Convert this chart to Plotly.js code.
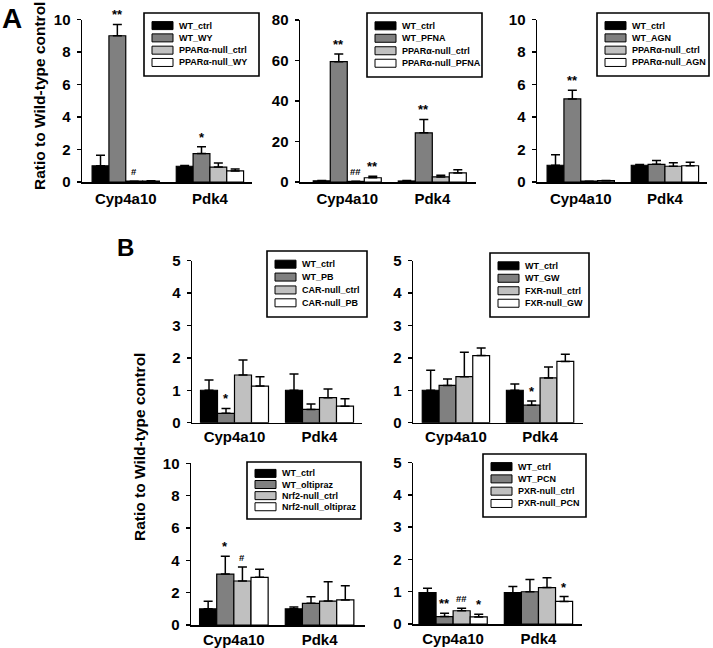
<!DOCTYPE html>
<html>
<head>
<meta charset="utf-8">
<script src="https://cdn.plot.ly/plotly-3.0.1.min.js"></script>
<style>html,body{margin:0;padding:0;background:#fff;}#chart{width:713px;height:648px;}</style>
</head>
<body>
<div id="chart"></div>
<script>
// ---------------- data ----------------
const genes = ['Cyp4a10', 'Pdk4'];
const yTitle = 'Ratio to Wild-type control';

const a1Series = ['WT_ctrl', 'WT_WY', 'PPARα-null_ctrl', 'PPARα-null_WY'];
const a1Mean = [[1.0, 0.97], [9.0, 1.75], [0.05, 0.92], [0.05, 0.68]];
const a1Err  = [[0.65, 0.05], [0.7, 0.42], [0, 0.25], [0.02, 0.12]];
const a1Sig  = [['', ''], ['**', '*'], ['#', ''], ['', '']];

const a2Series = ['WT_ctrl', 'WT_PFNA', 'PPARα-null_ctrl', 'PPARα-null_PFNA'];
const a2Mean = [[0.6, 0.5], [59.4, 24.3], [0.3, 2.5], [2.1, 4.5]];
const a2Err  = [[0.2, 0.2], [3.8, 6.6], [0.1, 0.8], [0.7, 1.6]];
const a2Sig  = [['', ''], ['**', '**'], ['##', ''], ['**', '']];

const a3Series = ['WT_ctrl', 'WT_AGN', 'PPARα-null_ctrl', 'PPARα-null_AGN'];
const a3Mean = [[1.03, 1.03], [5.11, 1.09], [0.05, 0.97], [0.08, 1.0]];
const a3Err  = [[0.65, 0.05], [0.54, 0.24], [0, 0.22], [0.02, 0.21]];
const a3Sig  = [['', ''], ['**', ''], ['', ''], ['', '']];

const b1Series = ['WT_ctrl', 'WT_PB', 'CAR-null_ctrl', 'CAR-null_PB'];
const b1Mean = [[1.0, 1.0], [0.29, 0.41], [1.47, 0.77], [1.13, 0.51]];
const b1Err  = [[0.32, 0.5], [0.15, 0.17], [0.46, 0.27], [0.29, 0.23]];
const b1Sig  = [['', ''], ['*', ''], ['', ''], ['', '']];

const b2Series = ['WT_ctrl', 'WT_GW', 'FXR-null_ctrl', 'FXR-null_GW'];
const b2Mean = [[1.0, 1.0], [1.15, 0.54], [1.42, 1.38], [2.07, 1.89]];
const b2Err  = [[0.62, 0.19], [0.2, 0.13], [0.75, 0.34], [0.23, 0.22]];
const b2Sig  = [['', ''], ['', '*'], ['', ''], ['', '']];

const b3Series = ['WT_ctrl', 'WT_oltipraz', 'Nrf2-null_ctrl', 'Nrf2-null_oltipraz'];
const b3Mean = [[1.0, 1.0], [3.15, 1.34], [2.72, 1.48], [2.95, 1.55]];
const b3Err  = [[0.47, 0.12], [1.1, 0.41], [0.87, 1.2], [0.5, 0.88]];
const b3Sig  = [['', ''], ['*', ''], ['#', ''], ['', '']];

const b4Series = ['WT_ctrl', 'WT_PCN', 'PXR-null_ctrl', 'PXR-null_PCN'];
const b4Mean = [[0.97, 0.97], [0.23, 1.0], [0.41, 1.13], [0.22, 0.7]];
const b4Err  = [[0.14, 0.19], [0.1, 0.38], [0.08, 0.3], [0.08, 0.15]];
const b4Sig  = [['', ''], ['**', ''], ['##', ''], ['*', '*']];

// ---------------- layout / style ----------------
const W = 713, H = 648;
const FONT = 'Liberation Sans, Arial, Helvetica, sans-serif';
const fills = ['#000000', '#808080', '#c0c0c0', '#ffffff'];
const BARGAP = 0.2;
const xp = px => px / W;
const yp = py => 1 - py / H;

const panels = [
  {series: a1Series, mean: a1Mean, err: a1Err, sig: a1Sig, xdom: [82, 252], ydom: [19.5, 182], xr: [-0.52, 1.5], ymax: 10, dtick: 2, leg: [144, 13, 259, 76], so: 2},
  {series: a2Series, mean: a2Mean, err: a2Err, sig: a2Sig, xdom: [300, 476], ydom: [20, 182], xr: [-0.556, 1.514], ymax: 80, dtick: 20, leg: [367, 13, 482, 77], so: 2},
  {series: a3Series, mean: a3Mean, err: a3Err, sig: a3Sig, xdom: [537, 707], ydom: [19.5, 182], xr: [-0.52, 1.5], ymax: 10, dtick: 2, leg: [597, 13, 709, 76], so: 2},
  {series: b1Series, mean: b1Mean, err: b1Err, sig: b1Sig, xdom: [192, 362], ydom: [260.5, 422.7], xr: [-0.5, 1.5], ymax: 5, dtick: 1, leg: [267, 251, 367, 317], so: 0},
  {series: b2Series, mean: b2Mean, err: b2Err, sig: b2Sig, xdom: [413, 583], ydom: [260.5, 422.7], xr: [-0.51, 1.51], ymax: 5, dtick: 1, leg: [490, 253, 589, 317], so: 0},
  {series: b3Series, mean: b3Mean, err: b3Err, sig: b3Sig, xdom: [191, 365], ydom: [463.3, 625], xr: [-0.5, 1.53], ymax: 10, dtick: 2, leg: [247, 462, 361, 519], so: 0},
  {series: b4Series, mean: b4Mean, err: b4Err, sig: b4Sig, xdom: [413, 582], ydom: [462.7, 624], xr: [-0.47, 1.51], ymax: 5, dtick: 1, leg: [483, 454, 586, 517], so: 0}
];

const traces = [];
const layout = {
  width: W, height: H,
  margin: {l: 0, r: 0, t: 0, b: 0},
  paper_bgcolor: '#fff', plot_bgcolor: 'rgba(0,0,0,0)',
  showlegend: false,
  barmode: 'group', bargap: BARGAP, bargroupgap: 0,
  font: {family: FONT, color: '#000'},
  shapes: [], annotations: []
};

panels.forEach((p, k) => {
  const n = k === 0 ? '' : String(k + 1);
  const xa = 'x' + n, ya = 'y' + n;
  layout['xaxis' + n] = {
    domain: [xp(p.xdom[0]), xp(p.xdom[1])], range: p.xr, anchor: ya,
    type: 'category', showline: true, linecolor: '#000', linewidth: 1.5,
    ticks: '', showgrid: false, zeroline: false, fixedrange: true,
    tickfont: {family: FONT, size: 15, color: '#000', weight: 'bold'},
    ticklabelstandoff: p.so
  };
  layout['yaxis' + n] = {
    domain: [yp(p.ydom[1]), yp(p.ydom[0])], range: [0, p.ymax], anchor: xa,
    dtick: p.dtick, tick0: 0, showline: true, linecolor: '#000', linewidth: 1.5,
    ticks: 'outside', ticklen: 4, tickwidth: 1.5, tickcolor: '#000',
    showgrid: false, zeroline: false, fixedrange: true,
    tickfont: {family: FONT, size: 15, color: '#000', weight: 'bold'},
    ticklabelstandoff: 3
  };
  const catPx = (p.xdom[1] - p.xdom[0]) / (p.xr[1] - p.xr[0]);
  const barPx = catPx * (1 - BARGAP) / p.series.length;
  p.series.forEach((name, i) => {
    traces.push({
      type: 'bar', name: name, x: genes, y: p.mean[i], xaxis: xa, yaxis: ya,
      marker: {color: fills[i], line: {color: '#000', width: 1.2}},
      error_y: {type: 'data', symmetric: false, array: p.err[i], arrayminus: p.err[i].map(() => 0),
                color: '#000', thickness: 1.5, width: 4.5},
      hoverinfo: 'none'
    });
    genes.forEach((g, j) => {
      const s = p.sig[i][j];
      if (!s) return;
      const isHash = s.indexOf('#') >= 0;
      layout.annotations.push({
        xref: xa, yref: ya, x: g, y: p.mean[i][j] + p.err[i][j],
        xshift: (i - (p.series.length - 1) / 2) * barPx, yshift: isHash ? 2 : 0,
        text: s, showarrow: false, xanchor: 'center', yanchor: 'bottom',
        font: {family: FONT, size: isHash ? 9.5 : 13, color: '#000', weight: 'bold'}
      });
    });
  });
  // legend box
  const [l, t, r, b] = p.leg;
  layout.shapes.push({type: 'rect', xref: 'paper', yref: 'paper', x0: xp(l), x1: xp(r), y0: yp(b), y1: yp(t),
                      line: {color: '#000', width: 1.6}, fillcolor: '#fff', layer: 'above'});
  const h = b - t;
  p.series.forEach((name, i) => {
    const cy = t + h * (0.2 + 0.195 * i);
    layout.shapes.push({type: 'rect', xref: 'paper', yref: 'paper', x0: xp(l + 8), x1: xp(l + 29),
                        y0: yp(cy + 4), y1: yp(cy - 4), line: {color: '#000', width: 1}, fillcolor: fills[i], layer: 'above'});
    layout.annotations.push({xref: 'paper', yref: 'paper', x: xp(l + 33), y: yp(cy), text: name,
                             showarrow: false, xanchor: 'left', yanchor: 'middle',
                             font: {family: FONT, size: 9, color: '#000', weight: 'bold'}});
  });
});

// axis titles and panel letters
layout.annotations.push(
  {xref: 'paper', yref: 'paper', x: xp(39), y: yp(96), text: yTitle, textangle: -90, showarrow: false,
   xanchor: 'center', yanchor: 'middle', font: {family: FONT, size: 15.5, color: '#000', weight: 'bold'}},
  {xref: 'paper', yref: 'paper', x: xp(140), y: yp(447), text: yTitle, textangle: -90, showarrow: false,
   xanchor: 'center', yanchor: 'middle', font: {family: FONT, size: 15.5, color: '#000', weight: 'bold'}},
  {xref: 'paper', yref: 'paper', x: xp(12), y: yp(18), text: 'A', showarrow: false,
   xanchor: 'center', yanchor: 'middle', font: {family: FONT, size: 28, color: '#000', weight: 'bold'}},
  {xref: 'paper', yref: 'paper', x: xp(125.5), y: yp(247.5), text: 'B', showarrow: false,
   xanchor: 'center', yanchor: 'middle', font: {family: FONT, size: 24, color: '#000', weight: 'bold'}}
);

Plotly.newPlot('chart', traces, layout, {staticPlot: true, displayModeBar: false});
</script>
</body>
</html>
